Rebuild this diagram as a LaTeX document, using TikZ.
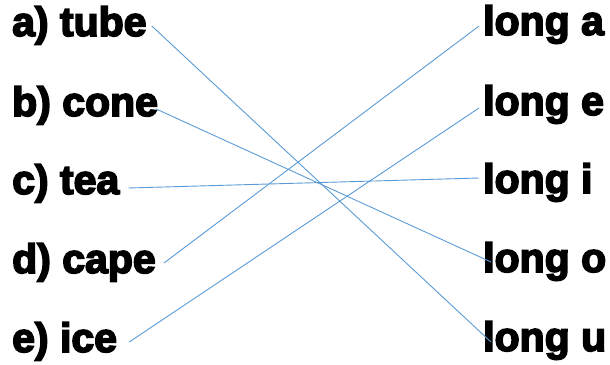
\documentclass[tikz,border=0pt]{standalone}
\usepackage{fontspec}
\setmainfont{Liberation Sans}[FakeBold=4]
\usetikzlibrary{calc}
\tikzset{
  lbl/.style={anchor=base west, inner sep=0pt, font=\fontsize{41}{41}\selectfont\bfseries},
  link/.style={draw=linkblue, line width=0.9pt}
}
\definecolor{linkblue}{HTML}{5B9BD5}
\begin{document}
\begin{tikzpicture}[x=1pt,y=-1pt]
\useasboundingbox (0,0) rectangle (610,364);
\node[lbl] (a) at (12,36) {a) tube};
\node[lbl] (b) at (12,116) {b) cone};
\node[lbl] (c) at (12,194) {c) tea};
\node[lbl] (d) at (12,273) {d) cape};
\node[lbl] (e) at (12,352) {e) ice};
\node[lbl] (la) at (483,35) {long a};
\node[lbl] (le) at (483,115) {long e};
\node[lbl] (li) at (483,193) {long i};
\node[lbl] (lo) at (483,272) {long o};
\node[lbl] (lu) at (483,351) {long u};
\draw[link] ($(a.base east)+(5,-10)$) -- ($(lu.base west)+(8,-9)$);
\draw[link] ($(b.base east)+(-2,-7)$) -- ($(lo.base west)+(8,-10)$);
\draw[link] ($(c.base east)+(9,-6)$) -- ($(li.base west)+(-4,-15)$);
\draw[link] ($(d.base east)+(8,-10)$) -- ($(la.base west)+(-4,-9)$);
\draw[link] ($(e.base east)+(12,-10)$) -- ($(le.base west)+(-4,-7)$);
\end{tikzpicture}
\end{document}
